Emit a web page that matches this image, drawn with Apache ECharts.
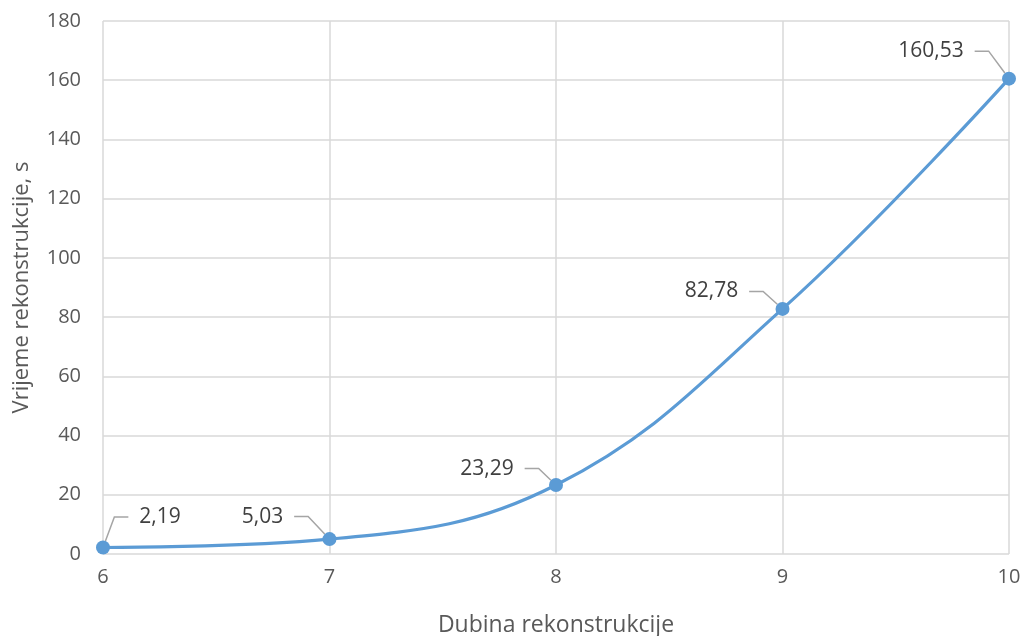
<!DOCTYPE html>
<html>
<head>
<meta charset="utf-8">
<script src="https://cdn.jsdelivr.net/npm/echarts@6/dist/echarts.min.js"></script>
<style>
  html, body { margin: 0; padding: 0; background: #fff; }
  #chart { width: 1024px; height: 636px; }
</style>
</head>
<body>
<div id="chart"></div>
<script>
// depth of reconstruction vs. time
const depths = [6, 7, 8, 9, 10];
const times = [2.19, 5.03, 23.29, 82.78, 160.53];
const yTicks = [0, 20, 40, 60, 80, 100, 120, 140, 160, 180];

// label offsets from default 'top' position
const labelShift = [
  { dx: 57, dy: -8 },
  { dx: -67, dy: 0 },
  { dx: -69, dy: 6 },
  { dx: -71, dy: 5 },
  { dx: -78, dy: -5 }
];

const textColor = '#595959';
const gridColor = '#d9d9d9';
const font = 'Open Sans';

const chart = echarts.init(document.getElementById('chart'), null, { renderer: 'canvas' });

chart.setOption({
  animation: false,
  grid: { left: 103, right: 15, top: 21, bottom: 82, outerBoundsMode: 'none' },
  xAxis: {
    type: 'value',
    min: depths[0],
    max: depths[depths.length - 1],
    interval: 1,
    name: 'Dubina rekonstrukcije',
    nameLocation: 'middle',
    nameGap: 60,
    nameTextStyle: { color: textColor, fontSize: 23, fontFamily: font },
    axisLine: { show: false },
    axisTick: { show: false },
    axisLabel: { color: textColor, fontSize: 20, fontFamily: font, margin: 13 },
    splitLine: { show: true, lineStyle: { color: gridColor, width: 1.5 } }
  },
  yAxis: {
    type: 'value',
    min: yTicks[0],
    max: yTicks[yTicks.length - 1],
    interval: 20,
    name: 'Vrijeme rekonstrukcije, s',
    nameLocation: 'middle',
    nameGap: 70,
    nameTextStyle: { color: textColor, fontSize: 22, fontFamily: font },
    axisLine: { show: false },
    axisTick: { show: false },
    axisLabel: { color: textColor, fontSize: 20, fontFamily: font, margin: 22 },
    splitLine: { show: true, lineStyle: { color: gridColor, width: 1.5 } }
  },
  series: [{
    type: 'line',
    data: depths.map((d, i) => [d, times[i]]),
    smooth: 0.4,
    symbol: 'circle',
    symbolSize: 14,
    lineStyle: { color: '#5b9bd5', width: 3.2 },
    itemStyle: { color: '#5b9bd5' },
    label: {
      show: true,
      position: 'top',
      color: '#404040',
      fontSize: 21,
      fontFamily: font,
      // spaces keep the leader line clear of the text
      formatter: p => '  ' + p.value[1].toFixed(2).replace('.', ',') + '  '
    },
    labelLine: {
      show: true,
      length2: 14,
      lineStyle: { color: '#a5a5a5', width: 1.5 }
    },
    labelLayout: p => labelShift[p.dataIndex]
  }]
});
</script>
</body>
</html>
